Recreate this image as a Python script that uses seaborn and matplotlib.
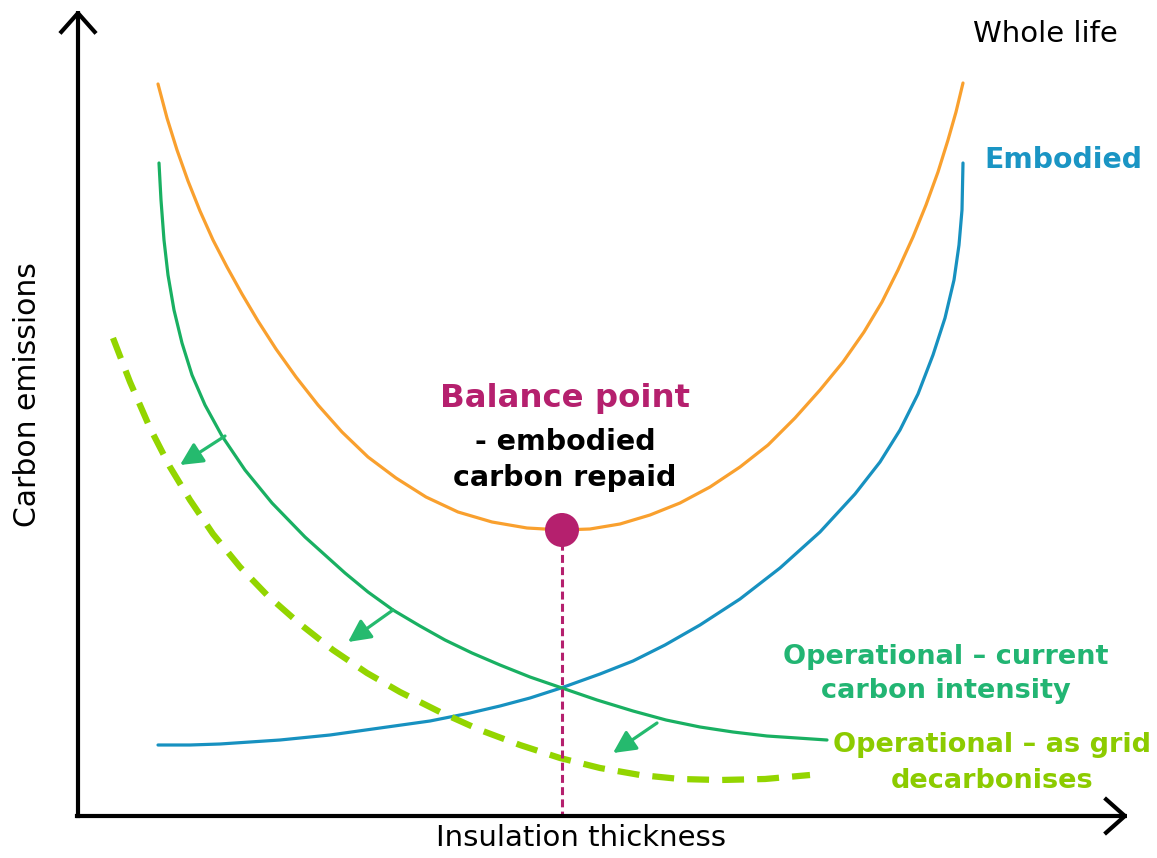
import matplotlib
matplotlib.use("Agg")
import matplotlib.pyplot as plt
import seaborn as sns

# ── Data (in canvas units: x right, y down) ─────────────────────────────────
whole_x = [158, 167, 177, 188, 200, 213, 227, 242, 258, 276, 296, 318, 342, 368, 396,
           426, 458, 492, 527, 562, 590, 620, 650, 680, 710, 740, 768, 795, 820, 843,
           864, 882, 898, 913, 926, 938, 948, 956, 963]
whole_y = [84, 118, 150, 181, 211, 240, 267, 294, 321, 349, 377, 405, 432, 457, 478,
           497, 512, 522, 528, 530, 529, 524, 515, 503, 487, 467, 445, 418, 390, 362,
           332, 302, 270, 237, 205, 172, 140, 112, 83]

embodied_x = [158, 190, 220, 250, 280, 330, 380, 430, 470, 500, 530, 561, 600, 633,
              665, 700, 740, 780, 820, 855, 880, 900, 918, 933, 945, 954, 959, 962, 963]
embodied_y = [745, 745, 744, 742, 740, 735, 728, 721, 713, 706, 698, 688, 674, 661,
              645, 625, 599, 568, 532, 494, 462, 430, 394, 355, 318, 280, 245, 210, 163]

oper_x = [159, 161, 164, 168, 174, 182, 192, 205, 222, 245, 272, 305, 345, 368, 393,
          420, 445, 472, 500, 530, 562, 597, 633, 666, 700, 733, 767, 797, 827]
oper_y = [163, 200, 240, 275, 310, 343, 375, 405, 436, 470, 503, 537, 573, 592, 610,
          626, 640, 653, 665, 677, 688, 700, 711, 720, 727, 732, 736, 738, 740]

grid_x = [113, 130, 150, 170, 190, 213, 240, 267, 300, 333, 367, 400, 440, 480, 520,
          560, 600, 640, 680, 720, 765, 810]
grid_y = [338, 382, 428, 467, 500, 534, 567, 595, 624, 650, 673, 692, 712, 730, 745,
          758, 768, 775, 779, 780, 779, 775]

# shift arrows: (start on current curve) -> (towards decarbonised curve)
shift_from = [(225, 436), (393, 610), (657, 723)]
shift_to = [(180, 465), (348, 642), (613, 753)]

balance_x = 562
balance_y = 530
axis_floor = 815

C_ORANGE = "#F9A02E"
C_BLUE = "#1791C0"
C_GREEN = "#19B062"
C_ARROW = "#25BA6E"
C_LIME = "#93D500"
C_LIME_TXT = "#8CCB00"
C_MAGENTA = "#B5206E"

sns.set_theme(style="white")
plt.rcParams["font.family"] = ["DejaVu Sans"]

fig = plt.figure(figsize=(11.57, 8.58), dpi=100)
ax = fig.add_axes([0, 0, 1, 1])
ax.set_xlim(0, 1157)
ax.set_ylim(858, 0)
ax.axis("off")

# ── Curves ──────────────────────────────────────────────────────────────────
line_kw = dict(ax=ax, lw=2.3, sort=False, solid_joinstyle="round")
sns.lineplot(x=whole_x, y=whole_y, color=C_ORANGE, **line_kw)
sns.lineplot(x=embodied_x, y=embodied_y, color=C_BLUE, **line_kw)
sns.lineplot(x=oper_x, y=oper_y, color=C_GREEN, **line_kw)
sns.lineplot(x=grid_x, y=grid_y, ax=ax, color=C_LIME, lw=4.5, sort=False,
             linestyle=(0, (3.5, 2.1)), dash_joinstyle="round")

# balance point + drop line
ax.plot([balance_x, balance_x], [balance_y, axis_floor], color=C_MAGENTA, lw=2.2,
        linestyle=(0, (2.6, 1.4)), zorder=3)
sns.scatterplot(x=[balance_x], y=[balance_y], ax=ax, color=C_MAGENTA, s=600,
                edgecolor="none", zorder=5)

for (x0, y0), (x1, y1) in zip(shift_from, shift_to):
    ax.annotate("", xy=(x1, y1), xytext=(x0, y0),
                arrowprops=dict(arrowstyle="-|>,head_length=0.8,head_width=0.4",
                                lw=2.3, color=C_ARROW, mutation_scale=17,
                                shrinkA=0, shrinkB=0))

# ── Axes arrows ─────────────────────────────────────────────────────────────
arrow_kw = dict(arrowstyle="->,head_length=0.45,head_width=0.4", lw=3, color="black",
                mutation_scale=30, shrinkA=0, shrinkB=0, capstyle="projecting")
ax.annotate("", xy=(78, 10), xytext=(78, 816), arrowprops=arrow_kw)
ax.annotate("", xy=(1128, 816), xytext=(77, 816), arrowprops=arrow_kw)

# ── Labels ──────────────────────────────────────────────────────────────────
ax.text(28, 395, "Carbon emissions", rotation=90, ha="center", va="center",
        fontsize=21.5, color="black")
ax.text(581, 838, "Insulation thickness", ha="center", va="center",
        fontsize=21, color="black")
ax.text(1045, 34, "Whole life", ha="center", va="center", fontsize=21, color="black")
ax.text(1063, 160, "Embodied", ha="center", va="center", fontsize=20.3,
        fontweight="bold", color="#1A95C4")
ax.text(565, 398, "Balance point", ha="center", va="center", fontsize=23.3,
        fontweight="bold", color=C_MAGENTA)
ax.text(565, 460, "- embodied\ncarbon repaid", ha="center", va="center", fontsize=20.5,
        fontweight="bold", color="black", linespacing=1.35,
        bbox=dict(facecolor="white", edgecolor="none", pad=1))
ax.text(946, 674, "Operational \u2013 current\ncarbon intensity", ha="center",
        va="center", fontsize=19.5, fontweight="bold", color="#22B573", linespacing=1.45)
ax.text(992, 763, "Operational \u2013 as grid\ndecarbonises", ha="center",
        va="center", fontsize=19.5, fontweight="bold", color=C_LIME_TXT, linespacing=1.45)

fig.savefig("out.png", dpi=100)
